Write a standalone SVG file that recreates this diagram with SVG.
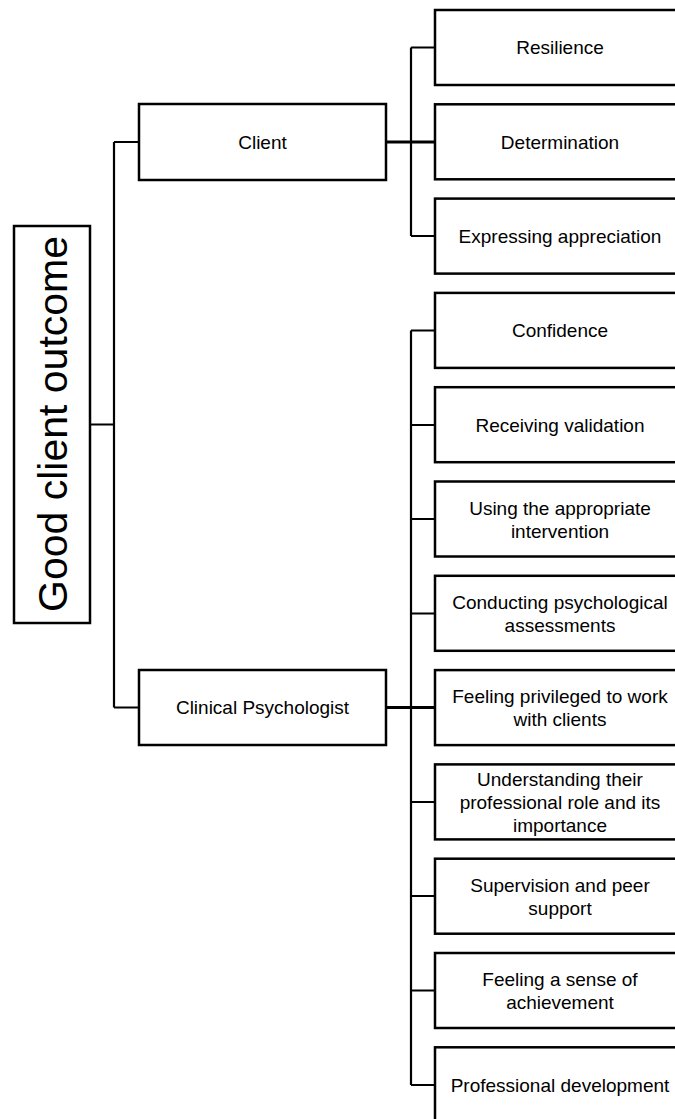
<svg xmlns="http://www.w3.org/2000/svg" width="675" height="1119" viewBox="0 0 675 1119">
<style>
.box{fill:#fff;stroke:#000;stroke-width:2.5}
.t{font-family:"Liberation Sans",Arial,sans-serif;font-size:19px;fill:#000;text-anchor:middle}
.root{font-family:"Liberation Sans",Arial,sans-serif;font-size:41px;fill:#000;text-anchor:middle}
.c{fill:none;stroke:#000;stroke-width:2.2}
.ct{fill:none;stroke:#000;stroke-width:3.2}
</style>
<rect width="675" height="1119" fill="#fff"/>
<g id="connectors">
<path class="c" d="M90 424.5H114M114 142V707.5M114 142H139M114 707.5H139"/>
<path class="ct" d="M386 142H435M386 707.5H435"/>
<path class="c" d="M411 47.5V236M411 47.5H435M411 236H435"/>
<path class="c" d="M411 330.5V1085M411 330.5H435M411 425H435M411 519H435M411 613.5H435M411 707.5H435M411 802H435M411 896H435M411 990.5H435M411 1085H435"/>
</g>
<g id="root"><rect class="box" x="14" y="226" width="76" height="397"/><text class="root" transform="translate(67,424) rotate(-90)" x="0" y="0">Good client outcome</text></g>
<g id="client"><rect class="box" x="139" y="104" width="247" height="76"/><text class="t" x="262.5" y="148.5">Client</text></g>
<g id="clinical"><rect class="box" x="139" y="670" width="247" height="75"/><text class="t" x="262.5" y="714">Clinical Psychologist</text></g>
<g id="resilience"><rect class="box" x="435" y="10" width="260" height="75"/><text class="t" x="560" y="54">Resilience</text></g>
<g id="determination"><rect class="box" x="435" y="104.3" width="260" height="75"/><text class="t" x="560" y="148.5">Determination</text></g>
<g id="appreciation"><rect class="box" x="435" y="198.6" width="260" height="75"/><text class="t" x="560" y="243">Expressing appreciation</text></g>
<g id="confidence"><rect class="box" x="435" y="292.9" width="260" height="75"/><text class="t" x="560" y="337">Confidence</text></g>
<g id="validation"><rect class="box" x="435" y="387.2" width="260" height="75"/><text class="t" x="560" y="431.5">Receiving validation</text></g>
<g id="intervention"><rect class="box" x="435" y="481.5" width="260" height="75"/><text class="t" x="560" y="514.5">Using the appropriate</text><text class="t" x="560" y="537.5">intervention</text></g>
<g id="assessments"><rect class="box" x="435" y="575.8" width="260" height="75"/><text class="t" x="560" y="609">Conducting psychological</text><text class="t" x="560" y="632">assessments</text></g>
<g id="privileged"><rect class="box" x="435" y="670.1" width="260" height="75"/><text class="t" x="560" y="703">Feeling privileged to work</text><text class="t" x="560" y="726">with clients</text></g>
<g id="role"><rect class="box" x="435" y="764.4" width="260" height="75"/><text class="t" x="560" y="786">Understanding their</text><text class="t" x="560" y="809">professional role and its</text><text class="t" x="560" y="832">importance</text></g>
<g id="supervision"><rect class="box" x="435" y="858.7" width="260" height="75"/><text class="t" x="560" y="891.5">Supervision and peer</text><text class="t" x="560" y="914.5">support</text></g>
<g id="achievement"><rect class="box" x="435" y="953" width="260" height="75"/><text class="t" x="560" y="986">Feeling a sense of</text><text class="t" x="560" y="1009">achievement</text></g>
<g id="development"><rect class="box" x="435" y="1047.3" width="260" height="75"/><text class="t" x="560" y="1091.5">Professional development</text></g>
</svg>
